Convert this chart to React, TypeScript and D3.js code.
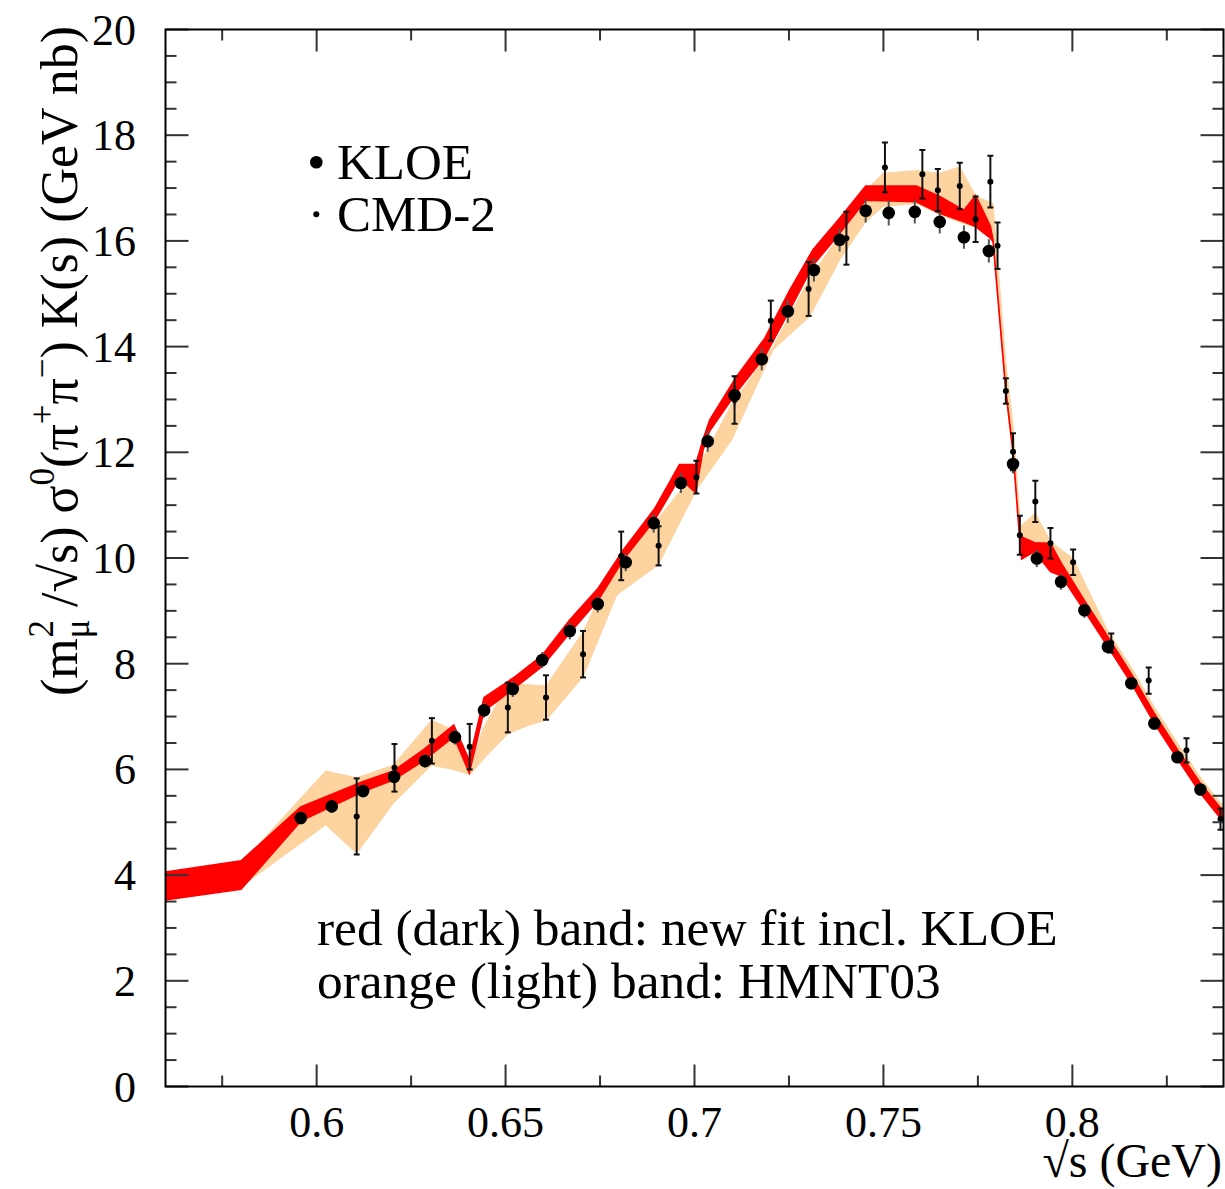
import React from 'react';
import * as d3 from 'd3';

// KLOE points
const kloeX = [0.5958, 0.6040, 0.6123, 0.6205, 0.6287, 0.6366, 0.6443, 0.6519, 0.6597, 0.6670, 0.6744, 0.6818, 0.6892, 0.6964, 0.7035, 0.7106, 0.7178, 0.7247, 0.7316, 0.7384, 0.7453, 0.7514, 0.7583, 0.7649, 0.7713, 0.7779, 0.7843, 0.7906, 0.7970, 0.8032, 0.8094, 0.8156, 0.8217, 0.8278, 0.8339];
const kloeY = [5.08, 5.30, 5.59, 5.86, 6.16, 6.61, 7.12, 7.52, 8.07, 8.62, 9.13, 9.92, 10.66, 11.42, 12.21, 13.08, 13.76, 14.67, 15.45, 16.02, 16.57, 16.53, 16.55, 16.36, 16.07, 15.81, 11.78, 9.99, 9.55, 9.01, 8.32, 7.63, 6.87, 6.23, 5.62];
const kloeErr = [0.12, 0.12, 0.12, 0.13, 0.13, 0.14, 0.14, 0.15, 0.15, 0.16, 0.16, 0.17, 0.18, 0.19, 0.20, 0.20, 0.21, 0.22, 0.22, 0.22, 0.22, 0.24, 0.22, 0.22, 0.22, 0.22, 0.18, 0.16, 0.15, 0.14, 0.13, 0.12, 0.12, 0.11, 0.11];

// CMD-2 points
const cmdX = [0.6106, 0.6206, 0.6305, 0.6405, 0.6506, 0.6607, 0.6705, 0.6806, 0.6905, 0.7005, 0.7106, 0.7202, 0.7302, 0.7402, 0.7504, 0.7603, 0.7644, 0.7702, 0.7744, 0.7783, 0.7802, 0.7824, 0.7843, 0.7861, 0.7902, 0.7942, 0.8002, 0.8103, 0.8202, 0.8302, 0.8392];
const cmdY = [5.11, 6.03, 6.54, 6.43, 7.17, 7.36, 8.18, 10.04, 10.23, 11.53, 12.99, 14.49, 15.09, 16.05, 17.39, 17.26, 16.96, 17.04, 16.41, 17.12, 15.91, 13.16, 12.01, 10.43, 11.07, 10.28, 9.92, 8.39, 7.68, 6.36, 5.06];
const cmdErr = [0.72, 0.45, 0.43, 0.43, 0.47, 0.42, 0.44, 0.46, 0.37, 0.31, 0.45, 0.38, 0.51, 0.50, 0.47, 0.46, 0.40, 0.44, 0.43, 0.49, 0.44, 0.24, 0.35, 0.37, 0.39, 0.29, 0.24, 0.18, 0.25, 0.23, 0.20];

// red (dark) band: new fit incl. KLOE
const fitX = [0.560, 0.580, 0.5958, 0.6123, 0.6203, 0.6282, 0.6363, 0.6404, 0.6443, 0.6520, 0.6597, 0.6670, 0.6745, 0.6811, 0.6895, 0.6960, 0.7003, 0.7023, 0.7040, 0.7110, 0.7186, 0.7252, 0.7314, 0.7384, 0.7453, 0.7587, 0.7649, 0.7713, 0.7744, 0.7783, 0.7790, 0.7824, 0.7843, 0.7860, 0.7866, 0.7900, 0.7942, 0.7971, 0.8032, 0.8094, 0.8157, 0.8217, 0.8278, 0.8339, 0.8400];
const fitLo = [3.53, 3.73, 5.02, 5.58, 5.80, 6.16, 6.62, 5.93, 7.10, 7.52, 7.95, 8.58, 9.20, 9.96, 10.72, 11.51, 11.24, 12.05, 12.40, 13.12, 13.81, 14.69, 15.54, 16.14, 16.77, 16.74, 16.52, 16.36, 16.27, 16.05, 15.99, 13.14, 11.99, 10.40, 9.98, 10.12, 9.74, 9.66, 9.00, 8.32, 7.62, 6.87, 6.20, 5.55, 5.00];
const fitHi = [4.06, 4.27, 5.29, 5.77, 5.97, 6.37, 6.84, 6.17, 7.36, 7.73, 8.16, 8.83, 9.43, 10.15, 10.94, 11.77, 11.77, 12.25, 12.61, 13.42, 14.16, 15.07, 15.84, 16.43, 17.04, 17.04, 16.84, 16.58, 16.86, 16.28, 16.03, 13.18, 12.03, 10.44, 10.40, 10.29, 10.28, 9.90, 9.20, 8.51, 7.80, 7.06, 6.38, 5.74, 5.20];

// orange (light) band: HMNT03
const hmntX = [0.580, 0.6024, 0.6106, 0.6203, 0.6304, 0.6361, 0.6406, 0.6441, 0.6507, 0.6564, 0.6607, 0.6705, 0.6794, 0.6904, 0.7005, 0.7098, 0.7208, 0.7305, 0.7384, 0.7453, 0.7499, 0.7587, 0.7649, 0.7702, 0.7746, 0.7790, 0.7824, 0.7843, 0.7863, 0.7902, 0.7942, 0.8002, 0.8094, 0.8157, 0.8217, 0.8278, 0.8339, 0.8400];
const hmntLo = [3.78, 4.95, 4.41, 5.36, 6.08, 6.00, 5.90, 6.19, 6.68, 6.84, 6.93, 7.75, 9.30, 9.87, 11.29, 12.23, 13.94, 14.57, 15.64, 16.36, 16.65, 16.71, 16.50, 16.35, 16.25, 16.05, 13.10, 11.95, 10.35, 10.10, 9.85, 9.40, 8.32, 7.62, 6.87, 6.20, 5.55, 5.00];
const hmntHi = [4.22, 5.97, 5.84, 6.08, 6.93, 6.75, 6.05, 6.78, 7.63, 7.60, 7.58, 8.60, 9.95, 10.75, 11.65, 12.90, 14.00, 15.30, 16.10, 16.95, 17.28, 17.33, 17.28, 17.40, 16.84, 16.71, 13.70, 12.50, 10.60, 10.85, 10.31, 9.99, 8.62, 7.92, 7.18, 6.50, 5.85, 5.30];

const xMajor = [0.6, 0.65, 0.7, 0.75, 0.8];
const xMajorLabels = ['0.6', '0.65', '0.7', '0.75', '0.8'];
const xMinor = [0.575, 0.625, 0.675, 0.725, 0.775, 0.825];
const yMajor = [0, 2, 4, 6, 8, 10, 12, 14, 16, 18, 20];

const FONT = '"Liberation Serif", "Times New Roman", Times, serif';

export default function App() {
  const W = 1225, H = 1189;
  const x = d3.scaleLinear().domain([0.56, 0.84]).range([165.5, 1223.5]);
  const y = d3.scaleLinear().domain([0, 20]).range([1086.5, 29.5]);
  const [x0, x1] = x.range();
  const [yb, yt] = y.range();

  type B = { x: number; lo: number; hi: number };
  const area = d3.area<B>().x(d => x(d.x)).y0(d => y(d.lo)).y1(d => y(d.hi)).curve(d3.curveLinear);
  const fit: B[] = fitX.map((v, i) => ({ x: v, lo: fitLo[i], hi: fitHi[i] }));
  const hmnt: B[] = hmntX.map((v, i) => ({ x: v, lo: hmntLo[i], hi: hmntHi[i] }));

  const yMinor = y.ticks(40).filter(t => Math.abs(t / 2 - Math.round(t / 2)) > 1e-6);

  const tickColor = '#333';
  const majL = 23, minL = 11;

  return (
    <svg width={W} height={H} style={{ position: 'absolute', left: 0, top: 0, background: '#fff' }} fontFamily={FONT}>
      <defs>
        <clipPath id="plotclip">
          <rect x={x0} y={yt} width={x1 - x0} height={yb - yt} />
        </clipPath>
      </defs>
      <rect x={0} y={0} width={W} height={H} fill="#fff" />
      <g clipPath="url(#plotclip)">
        <path d={area(hmnt) || ''} fill="#FDD3A0" stroke="#FDD3A0" strokeWidth={1} />
        <path d={area(fit) || ''} fill="#FF0000" stroke="#FF0000" strokeWidth={1.5} strokeLinejoin="miter" />
        {kloeX.map((v, i) => (
          <line key={'ke' + i} x1={x(v)} x2={x(v)} y1={y(kloeY[i] - kloeErr[i])} y2={y(kloeY[i] + kloeErr[i])} stroke="#555" strokeWidth={2} />
        ))}
        {cmdX.map((v, i) => {
          const cx = x(v);
          const ya = y(cmdY[i] + cmdErr[i]);
          const yb2 = y(cmdY[i] - cmdErr[i]);
          return (
            <g key={'ce' + i} stroke="#111" strokeWidth={2}>
              <line x1={cx} x2={cx} y1={ya} y2={yb2} />
              <line x1={cx - 3} x2={cx + 3} y1={ya} y2={ya} />
              <line x1={cx - 3} x2={cx + 3} y1={yb2} y2={yb2} />
            </g>
          );
        })}
        {kloeX.map((v, i) => (
          <circle key={'k' + i} cx={x(v)} cy={y(kloeY[i])} r={6.3} fill="#000" />
        ))}
        {cmdX.map((v, i) => (
          <circle key={'c' + i} cx={x(v)} cy={y(cmdY[i])} r={3} fill="#000" />
        ))}
      </g>

      {/* ticks */}
      <g stroke={tickColor} strokeWidth={2}>
        {yMajor.map(t => (
          <g key={'ym' + t}>
            <line x1={x0} x2={x0 + majL} y1={y(t)} y2={y(t)} />
            <line x1={x1 - majL} x2={x1} y1={y(t)} y2={y(t)} />
          </g>
        ))}
        {yMinor.map(t => (
          <g key={'yn' + t}>
            <line x1={x0} x2={x0 + minL} y1={y(t)} y2={y(t)} />
            <line x1={x1 - minL} x2={x1} y1={y(t)} y2={y(t)} />
          </g>
        ))}
        {xMajor.map(t => (
          <g key={'xm' + t}>
            <line x1={x(t)} x2={x(t)} y1={yb} y2={yb - 22} />
            <line x1={x(t)} x2={x(t)} y1={yt} y2={yt + 22} />
          </g>
        ))}
        {xMinor.map(t => (
          <g key={'xn' + t}>
            <line x1={x(t)} x2={x(t)} y1={yb} y2={yb - 11} />
            <line x1={x(t)} x2={x(t)} y1={yt} y2={yt + 11} />
          </g>
        ))}
      </g>
      <rect x={x0} y={yt} width={x1 - x0} height={yb - yt} fill="none" stroke="#000" strokeWidth={2} />

      {/* tick labels */}
      {yMajor.map(t => (
        <text key={'yl' + t} x={136} y={y(t) + 15} textAnchor="end" fontSize={44} fill="#000">{t}</text>
      ))}
      {xMajor.map((t, i) => (
        <text key={'xl' + t} x={x(t)} y={1137} textAnchor="middle" fontSize={44} fill="#000">{xMajorLabels[i]}</text>
      ))}

      {/* axis titles */}
      <text x={1222} y={1177} textAnchor="end" fontSize={48} fill="#000">√s (GeV)</text>
      <text transform="translate(77,361) rotate(-90)" textAnchor="middle" fontSize={52} fill="#000">
        (m<tspan fontSize={35} dy={12}>μ</tspan><tspan fontSize={35} dx={-18} dy={-36}>2</tspan><tspan dy={24}> /√s) σ</tspan><tspan fontSize={35} dy={-23}>0</tspan><tspan dy={23}>(π</tspan><tspan fontSize={35} dy={-23}>+</tspan><tspan dy={23}>π</tspan><tspan fontSize={35} dy={-23}>−</tspan><tspan dy={23}>) K(s) (GeV nb)</tspan>
      </text>

      {/* legend */}
      <circle cx={316.3} cy={162.3} r={6.3} fill="#000" />
      <text x={337} y={178.5} fontSize={51} fill="#000">KLOE</text>
      <circle cx={316.3} cy={214.3} r={3} fill="#000" />
      <text x={337} y={230.5} fontSize={51} fill="#000">CMD-2</text>

      <text x={317} y={945} fontSize={51.4} fill="#000">red (dark) band: new fit incl. KLOE</text>
      <text x={317} y={998} fontSize={51.4} fill="#000">orange (light) band: HMNT03</text>
    </svg>
  );
}
